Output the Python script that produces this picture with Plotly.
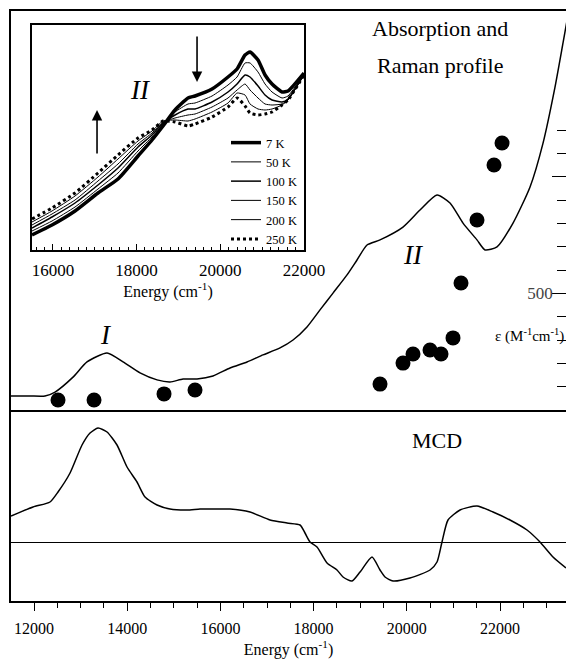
import plotly.graph_objects as go

# ---------------- data ----------------
# Main absorption spectrum (energy in cm-1, epsilon in M-1 cm-1)
abs_energy = [11506, 11914, 12236, 12451, 12837, 13137, 13567, 13910, 14275, 14640,
              14918, 15197, 15498, 15841, 16206, 16571, 16914, 17279, 17558, 17858,
              18137, 18416, 18717, 18931, 19146, 19425, 19918, 20283, 20648, 20927,
              21206, 21506, 21678, 21936, 22279, 22644, 22923, 23180, 23352, 23459]
abs_eps = [60, 60, 60, 77, 141, 206, 244, 206, 159, 129,
           120, 133, 133, 146, 180, 206, 236, 266, 300, 356,
           429, 501, 579, 643, 707, 729, 784, 857, 921, 887,
           801, 729, 686, 699, 801, 956, 1144, 1384, 1573, 1693]

# Raman excitation profile points
raman_energy = [12515, 13288, 14790, 15455, 19425, 19918, 20133, 20498, 20734, 20991,
                21163, 21506, 21871, 22043]
raman_int = [43, 43, 69, 86, 111, 201, 240, 257, 240, 309, 544, 814, 1050, 1144]

# MCD spectrum (arbitrary units)
mcd_energy = [11506, 11979, 12343, 12515, 12773, 13030, 13202, 13374, 13567, 13781,
              13996, 14210, 14382, 14640, 14918, 15283, 15562, 15777, 16206, 16635,
              17064, 17429, 17708, 17815, 17923, 18073, 18288, 18502, 18631, 18824,
              18996, 19253, 19425, 19532, 19704, 20069, 20498, 20648, 20755, 20884,
              21142, 21506, 21850, 22214, 22579, 22858, 23137, 23416]
mcd_val = [0.26, 0.35, 0.40, 0.50, 0.69, 0.97, 1.09, 1.14, 1.10, 0.97,
           0.75, 0.60, 0.45, 0.37, 0.33, 0.32, 0.33, 0.33, 0.33, 0.30,
           0.22, 0.19, 0.17, 0.09, 0.00, -0.05, -0.21, -0.28, -0.35, -0.39,
           -0.30, -0.15, -0.28, -0.35, -0.39, -0.36, -0.28, -0.20, 0.00, 0.22,
           0.32, 0.36, 0.30, 0.22, 0.12, 0.00, -0.15, -0.26]

# Inset: temperature dependence of band II (arbitrary absorbance units)
inset_energy = [15500, 15978, 16528, 17077, 17555, 18033, 18368, 18631, 18918, 19228,
                19396, 19802, 20184, 20400, 20591, 20710, 20901, 21069, 21236, 21475,
                21618, 22000]
inset_labels = ["7 K", "50 K", "100 K", "150 K", "200 K", "250 K"]
abs_7K = [15, 25, 39, 57, 71, 94, 110, 124, 140, 152, 154, 161, 173, 181, 195, 198, 190, 175, 166, 158, 159, 177]
abs_50K = [19, 29, 43, 61, 77, 99, 113, 126, 138, 146, 147, 154, 165, 173, 187, 187, 178, 166, 158, 152, 154, 176]
abs_100K = [22, 33, 47, 65, 82, 103, 115, 127, 135, 141, 141, 148, 158, 166, 175, 173, 164, 155, 150, 148, 151, 176]
abs_150K = [25, 36, 50, 69, 86, 106, 117, 128, 132, 135, 136, 143, 152, 160, 166, 160, 152, 146, 145, 146, 150, 175]
abs_200K = [28, 39, 54, 73, 91, 109, 119, 129, 130, 129, 131, 138, 147, 157, 155, 146, 141, 140, 141, 145, 150, 175]
abs_250K = [31, 42, 57, 77, 95, 112, 120, 129, 128, 124, 126, 133, 143, 152, 144, 137, 135, 136, 138, 145, 150, 175]

main_ticks = [12000, 14000, 16000, 18000, 20000, 22000]
main_tick_text = ["12000", "14000", "16000", "18000", "20000", "22000"]
inset_ticks = [16000, 18000, 20000, 22000]
inset_tick_text = ["16000", "18000", "20000", "22000"]
eps_major = [500, 1000]
eps_major_text = ["500", ""]
eps_minor = [100, 200, 300, 400, 600, 700, 800, 900, 1100, 1200]

# ---------------- figure ----------------
W, H = 566, 665
FONT = "Liberation Serif"


def fx(px):
    return px / W


def fy(py):
    return 1 - py / H


fig = go.Figure()

# absorption curve (top panel)
fig.add_trace(go.Scatter(x=abs_energy, y=abs_eps, xaxis="x2", yaxis="y2", mode="lines",
                         line=dict(color="black", width=1.5, shape="spline", smoothing=0.6),
                         showlegend=False))
fig.add_trace(go.Scatter(x=raman_energy, y=raman_int, xaxis="x2", yaxis="y2", mode="markers",
                         marker=dict(color="black", size=15), showlegend=False))

# MCD curve
fig.add_trace(go.Scatter(x=mcd_energy, y=mcd_val, xaxis="x", yaxis="y", mode="lines",
                         line=dict(color="black", width=1.5, shape="spline", smoothing=0.6),
                         showlegend=False))

# inset curves
inset_series = [abs_7K, abs_50K, abs_100K, abs_150K, abs_200K, abs_250K]
inset_styles = [dict(width=3.5, dash="solid"), dict(width=1, dash="solid"),
                dict(width=1.5, dash="solid"), dict(width=1, dash="solid"),
                dict(width=1, dash="solid"), dict(width=3, dash="dot")]
for name, vals, st in zip(inset_labels, inset_series, inset_styles):
    fig.add_trace(go.Scatter(x=inset_energy, y=vals, xaxis="x3", yaxis="y3", mode="lines",
                             name=name,
                             line=dict(color="black", width=st["width"], dash=st["dash"],
                                       shape="spline", smoothing=0.5)))

axis_common = dict(showgrid=False, zeroline=False, linecolor="black", color="black",
                   automargin=False)

fig.update_layout(
    width=W, height=H, autosize=False,
    margin=dict(l=0, r=0, t=0, b=0, autoexpand=False),
    paper_bgcolor="white", plot_bgcolor="white",
    font=dict(family=FONT, color="black", size=16),
    xaxis=dict(**axis_common, domain=[fx(11), 1], range=[11506, 23416], anchor="y",
               showline=True, linewidth=1.5, ticks="outside", tickvals=main_ticks,
               ticktext=main_tick_text,
               ticklen=8, tickwidth=1.2, tickcolor="black", ticklabelstandoff=4,
               tickfont=dict(size=16),
               minor=dict(dtick=500, tick0=0, ticks="outside", ticklen=5, tickcolor="black",
                          tickwidth=1.2),
               title=dict(text="Energy (cm<sup>-1</sup>)", font=dict(size=16), standoff=8)),
    yaxis=dict(showgrid=False, automargin=False, domain=[fy(601), fy(410)],
               range=[-0.59, 1.32], anchor="x",
               showline=True, linewidth=1.5, linecolor="black", ticks="",
               showticklabels=False, zeroline=True, zerolinecolor="black", zerolinewidth=1),
    xaxis2=dict(**axis_common, domain=[fx(11), 1], range=[11506, 23416], anchor="y2",
                showline=True, mirror=True, linewidth=1.5, ticks="", showticklabels=False),
    yaxis2=dict(**axis_common, domain=[fy(410), fy(11)], range=[0, 1710], anchor="x2",
                side="right", showline=True, mirror=True, linewidth=1.5,
                ticks="inside", tickvals=eps_major, ticktext=eps_major_text, ticklen=14,
                tickwidth=1.2, tickcolor="black", ticklabelposition="inside",
                tickfont=dict(size=17),
                minor=dict(tickvals=eps_minor, ticks="inside", ticklen=9, tickcolor="black",
                           tickwidth=1.2)),
    xaxis3=dict(**axis_common, domain=[fx(32), fx(304)], range=[15500, 22000], anchor="y3",
                showline=True, mirror=True, linewidth=1.5, ticks="inside",
                tickvals=inset_ticks, ticktext=inset_tick_text, ticklen=6, tickwidth=1,
                tickcolor="black", ticklabelstandoff=4, tickfont=dict(size=17),
                minor=dict(dtick=200, tick0=0, ticks="inside", ticklen=3, tickcolor="black",
                           tickwidth=1),
                title=dict(text="Energy (cm<sup>-1</sup>)", font=dict(size=16), standoff=4)),
    yaxis3=dict(**axis_common, domain=[fy(250), fy(25)], range=[0, 225], anchor="x3",
                showline=True, mirror=True, linewidth=1.5, ticks="", showticklabels=False),
    legend=dict(x=fx(226), y=fy(128), xanchor="left", yanchor="top",
                bgcolor="rgba(0,0,0,0)", borderwidth=0, font=dict(size=12.5),
                itemwidth=30, tracegroupgap=0),
)

ann = []
ann.append(dict(text="Absorption and", x=fx(440), y=fy(28), xref="paper", yref="paper",
                showarrow=False, font=dict(size=22), xanchor="center", yanchor="middle"))
ann.append(dict(text="Raman profile", x=fx(440), y=fy(65), xref="paper", yref="paper",
                showarrow=False, font=dict(size=22), xanchor="center", yanchor="middle"))
ann.append(dict(text="MCD", x=fx(437), y=fy(440), xref="paper", yref="paper",
                showarrow=False, font=dict(size=22), xanchor="center", yanchor="middle"))
ann.append(dict(text="ε (M<sup>-1</sup>cm<sup>-1</sup>)", x=1, y=fy(335), xref="paper",
                yref="paper", showarrow=False, font=dict(size=15), xanchor="right",
                yanchor="middle"))
ann.append(dict(text="<i>II</i>", x=20133, y=664, xref="x2", yref="y2", showarrow=False,
                font=dict(size=27), xanchor="center", yanchor="middle"))
ann.append(dict(text="<i>I</i>", x=13545, y=321, xref="x2", yref="y2", showarrow=False,
                font=dict(size=27), xanchor="center", yanchor="middle"))
ann.append(dict(text="<i>II</i>", x=18081, y=160, xref="x3", yref="y3", showarrow=False,
                font=dict(size=27), xanchor="center", yanchor="middle"))
# temperature arrows in inset
ann.append(dict(text="", x=17054, y=140, ax=17054, ay=95, xref="x3", yref="y3",
                axref="x3", ayref="y3", showarrow=True, arrowhead=2, arrowsize=1.3,
                arrowwidth=1.6, arrowcolor="black"))
ann.append(dict(text="", x=19444, y=168, ax=19444, ay=215, xref="x3", yref="y3",
                axref="x3", ayref="y3", showarrow=True, arrowhead=2, arrowsize=1.3,
                arrowwidth=1.6, arrowcolor="black"))
fig.update_layout(annotations=ann)

fig.write_html("out.html",
               config={"displayModeBar": False, "responsive": False},
               post_script="document.body.style.margin='0';document.body.style.overflow='hidden';")
